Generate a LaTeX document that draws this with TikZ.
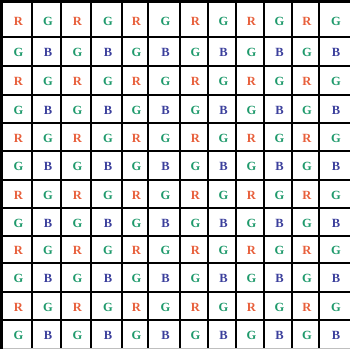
\documentclass[tikz,border=0pt]{standalone}
\usepackage{fontspec}
\setmainfont{Liberation Serif}
\definecolor{cR}{HTML}{E8603C}
\definecolor{cG}{HTML}{1F9A6C}
\definecolor{cB}{HTML}{3B3F9C}
\begin{document}
\begin{tikzpicture}[x=1pt,y=-1pt,
  letter/.style={font=\fontsize{12.5}{12.5}\selectfont\bfseries, inner sep=0pt},
  gridline/.style={line width=1.8pt, black},
  midline/.style={line width=2.3pt, black},
  borderline/.style={line width=3pt, black}]
\useasboundingbox (0,0) rectangle (350,349);
\fill[white] (0,0) rectangle (350,349);
% letters
\foreach \ya/\yb [count=\i] in {2/37,37/66,66/95,95/123,123/151,151/180,180/208,208/236,236/263,263/292,292/320,320/349} {
  \foreach \xa/\xb [count=\j] in {2/32,32/61,61/91,91/122,122/148,148/180,180/208,208/236,236/264,264/292,292/319,319/350} {
    \pgfmathtruncatemacro\t{mod(\i,2)*2+mod(\j,2)}
    \ifcase\t \def\lt{B}\def\lc{cB}\or \def\lt{G}\def\lc{cG}\or \def\lt{G}\def\lc{cG}\or \def\lt{R}\def\lc{cR}\fi
    \pgfmathsetmacro\cx{(\xa+\xb)/2+1.5}
    \pgfmathsetmacro\cy{ifthenelse(\i==1,(\ya+\yb)/2+2,(\ya+\yb)/2+1)}
    \node[letter, text=\lc] (c\i-\j) at (\cx,\cy) {\lt};
  }
}
% grid lines
\foreach \x in {32,61,91,122,148,208,236,264,292,319}
  \draw[gridline] (\x,2) -- (\x,349);
\foreach \y in {37,66,95,123,151,208,236,263,292,320}
  \draw[gridline] (2,\y) -- (350,\y);
\draw[midline] (180,2) -- (180,349);
\draw[midline] (2,180) -- (350,180);
\draw[gray!50, line width=1pt] (2,348.5) -- (350,348.5);
\draw[borderline] (1.5,349) -- (1.5,1.5) -- (350,1.5);
\end{tikzpicture}
\end{document}
